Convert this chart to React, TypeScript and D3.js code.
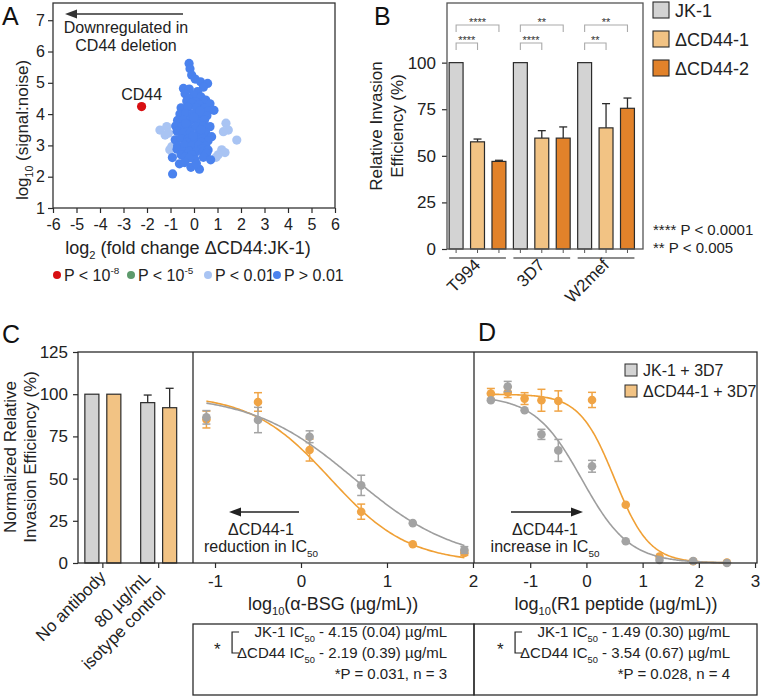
import React, { useEffect, useRef } from "react";
import * as d3 from "d3";

const FONT = "'Liberation Sans', Arial, Helvetica, sans-serif";

// ---- Panel A: proteomics scatter (log2 fold change vs log10 signal:noise)
const volcanoRed: [number, number][] = [[-2.23, 4.24]];
const volcanoLight: [number, number][] = [
  [-1.45, 3.49], [-1.16, 3.6], [-1.09, 3.39], [-1.23, 3.33], [-0.95, 2.96], [-1.03, 2.86],
  [1.36, 3.71], [1.46, 3.49], [1.25, 3.44], [1.82, 3.17], [1.18, 2.86], [1.32, 2.77],
  [1.03, 2.7], [0.94, 2.62],
];
const volcanoBlue: [number, number][] = [
  [-0.21, 5.62], [-0.17, 5.45], [-0.1, 5.25], [0.05, 5.12], [0.28, 5.03], [0.58, 4.98],
  [0.4, 4.86], [-0.45, 4.82], [-0.2, 4.8], [0.15, 4.72], [-0.38, 4.65], [0, 4.6],
  [0.3, 4.55], [-0.25, 4.5], [0.5, 4.45],
  [-0.31, 4.42], [0.05, 4.4], [0.4, 4.38], [-0.1, 4.35], [0.22, 4.3], [0.68, 4.33],
  [-0.55, 4.2], [-0.25, 4.22], [0.1, 4.2], [0.45, 4.18], [0.85, 4.12], [0.6, 4.1],
  [-0.6, 4.0], [-0.35, 4.02], [-0.05, 4.0], [0.3, 3.98], [0.55, 3.95], [0.25, 4.1],
  [-0.7, 3.8], [-0.45, 3.82], [-0.15, 3.8], [0.15, 3.78], [0.45, 3.82], [0.0, 3.9],
  [-0.78, 3.62], [-0.5, 3.6], [-0.2, 3.58], [0.1, 3.6], [0.4, 3.62], [0.68, 3.6], [-0.35, 3.7],
  [-0.72, 3.45], [-0.45, 3.4], [-0.15, 3.42], [0.2, 3.38], [0.5, 3.4], [0.3, 3.5],
  [-0.8, 3.18], [-0.55, 3.22], [-0.25, 3.2], [0.05, 3.2], [0.35, 3.22], [0.75, 3.28],
  [0.6, 3.15], [-0.05, 3.3], [-0.3, 3.1], [0.3, 3.1],
  [-0.7, 2.98], [-0.4, 3.0], [-0.1, 2.98], [0.2, 3.0], [0.5, 2.98], [0.35, 2.9],
  [-0.72, 2.88], [-0.45, 2.8], [-0.2, 2.82], [0.1, 2.8], [0.4, 2.8], [0.6, 2.85],
  [0.54, 2.75], [-0.1, 2.7], [-0.55, 2.7],
  [-0.92, 2.61], [-0.38, 2.64], [0.04, 2.55], [0.4, 2.62], [0.71, 2.54], [-0.2, 2.6],
  [-0.62, 2.41], [-0.13, 2.3], [0.23, 2.24], [-0.4, 2.45], [0.1, 2.42], [-0.91, 2.09],
];
const volcanoXTicks = [-6, -5, -4, -3, -2, -1, 0, 1, 2, 3, 4, 5, 6];
const volcanoYTicks = [1, 2, 3, 4, 5, 6, 7];

// ---- Panel B: invasion efficiency per strain
const strains = ["T994", "3D7", "W2mef"];
const lines = ["JK-1", "ΔCD44-1", "ΔCD44-2"];
const invMean = [[100, 57.5, 47], [100, 59.5, 59.5], [100, 65, 75.5]];
const invErr = [[0, 1.5, 0.6], [0, 4, 6], [0, 13, 5.5]];
const sigTop = ["****", "**", "**"]; // JK-1 vs ΔCD44-2
const sigLow = ["****", "****", "**"]; // JK-1 vs ΔCD44-1
const invTicks = [0, 25, 50, 75, 100];

// ---- Panel C: controls + anti-BSG dose response
const ctrlCats = ["No antibody", "80 µg/mL isotype control"];
const ctrlLines = ["JK-1", "ΔCD44"];
const ctrlMean = [[100, 100], [95, 92]];
const ctrlErr = [[0, 0], [4.5, 11.5]];
const bsgX = [-1.1, -0.5, 0.1, 0.7, 1.3, 1.9];
const bsgJK = [86.3, 84.7, 74.8, 46, 23.6, 7.7];
const bsgJKErr = [4, 7.5, 3.5, 6, 1, 2];
const bsgDel = [85, 95.4, 66.9, 30.4, 11.1, 6];
const bsgDelErr = [5, 5.5, 6.5, 4.5, 1, 1.5];
const bsgFitJK = { top: 100, bottom: 0, logIC50: 0.618, hill: 0.73 };
const bsgFitDel = { top: 100, bottom: 0, logIC50: 0.34, hill: 0.95 };

// ---- Panel D: R1 peptide dose response
const r1X = [-1.7, -1.4, -1.1, -0.8, -0.5, 0.1, 0.7, 1.3, 1.9, 2.5];
const r1JK = [96.4, 104.6, 90.5, 76.2, 66.7, 57.3, 12.9, 1.8, 1.2, 0];
const r1JKErr = [1, 3, 1, 3, 6.5, 3.5, 1, 1, 1, 0.5];
const r1Del = [100.4, 101, 97.4, 96.4, 96, 96.6, 34.5, 3.8, 1, 0.3];
const r1DelErr = [3, 3, 3.5, 6.5, 6, 4.5, 1, 1, 0.5, 0.3];
const r1FitJK = { top: 99, bottom: 0, logIC50: -0.08, hill: 1.03 };
const r1FitDel = { top: 100, bottom: 0, logIC50: 0.5, hill: 1.4 };
const normTicks = [0, 25, 50, 75, 100, 125];

const GREY = "#d3d3d3";
const LIGHT_OR = "#f2c384";
const DARK_OR = "#e2822a";
const PT_GREY = "#a3a3a3";
const PT_OR = "#f0a445";
const INK = "#2b2b2b";

type Part = { t: string; sub?: boolean; sup?: boolean };
type Sel = d3.Selection<any, any, any, any>;

function rich(parent: Sel, parts: Part[], size: number) {
  const t = parent.append("text").attr("font-family", FONT).attr("font-size", size).attr("fill", "#222");
  let shift = 0;
  parts.forEach((p) => {
    const target = p.sub ? size * 0.3 : p.sup ? -size * 0.42 : 0;
    const ts = t.append("tspan").attr("dy", target - shift).text(p.t);
    if (p.sub || p.sup) ts.attr("font-size", size * 0.62);
    shift = target;
  });
  return t;
}

function styleAxis(g: Sel, size: number) {
  g.select(".domain").remove();
  g.selectAll("line").attr("stroke", INK).attr("stroke-width", 1.2);
  g.selectAll("text").attr("font-family", FONT).attr("font-size", size).attr("fill", "#222");
}

const logistic = (p: { top: number; bottom: number; logIC50: number; hill: number }) => (x: number) =>
  p.bottom + (p.top - p.bottom) / (1 + Math.pow(10, p.hill * (x - p.logIC50)));

export default function App() {
  const svgRef = useRef<SVGSVGElement>(null);

  useEffect(() => {
    const el = svgRef.current;
    if (!el) return;
    const svg = d3.select(el);
    svg.selectAll("*").remove();

    // panel letters
    [["A", 2, 25], ["B", 374, 25], ["C", 2, 343], ["D", 478, 341]].forEach(([l, x, y]) =>
      svg.append("text").attr("x", x).attr("y", y).attr("font-family", FONT).attr("font-size", 25).attr("fill", "#111").text(l as string)
    );

    // ================= Panel A =================
    const ax = d3.scaleLinear().domain([-6, 6]).range([53, 335]);
    const ay = d3.scaleLinear().domain([1, 7.55]).range([208, 3]);
    const gA = svg.append("g");

    gA.append("g").attr("transform", "translate(0,208)")
      .call(d3.axisBottom(ax).tickValues(volcanoXTicks).tickSize(5).tickSizeOuter(0).tickPadding(6).tickFormat((d) => String(d)))
      .call((g) => styleAxis(g, 16));
    gA.append("g").attr("transform", "translate(53,0)")
      .call(d3.axisLeft(ay).tickValues(volcanoYTicks).tickSize(5).tickSizeOuter(0).tickPadding(3).tickFormat((d) => String(d)))
      .call((g) => styleAxis(g, 16));
    gA.append("rect").attr("x", 53).attr("y", 3).attr("width", 282).attr("height", 205)
      .attr("fill", "none").attr("stroke", "#333").attr("stroke-width", 1.3);

    const dots = (data: [number, number][], color: string) =>
      gA.append("g").selectAll("circle").data(data).join("circle")
        .attr("cx", (d) => ax(d[0])).attr("cy", (d) => ay(d[1])).attr("r", 4.6).attr("fill", color);
    dots(volcanoLight, "#a9c4f3");
    dots(volcanoBlue, "#4a82ee");
    dots(volcanoRed, "#d80f12");

    gA.append("text").attr("x", ax(volcanoRed[0][0])).attr("y", ay(volcanoRed[0][1]) - 7)
      .attr("text-anchor", "middle").attr("font-family", FONT).attr("font-size", 16).attr("fill", "#222").text("CD44");

    gA.append("line").attr("x1", 183).attr("x2", 72).attr("y1", 14).attr("y2", 14).attr("stroke", "#333").attr("stroke-width", 1.3);
    gA.append("path").attr("d", "M65,14 L77,9.5 L77,18.5 Z").attr("fill", "#333");
    gA.append("text").attr("x", 126).attr("y", 33).attr("text-anchor", "middle").attr("font-family", FONT)
      .attr("font-size", 16).attr("fill", "#222").text("Downregulated in");
    gA.append("text").attr("x", 126).attr("y", 51).attr("text-anchor", "middle").attr("font-family", FONT)
      .attr("font-size", 16).attr("fill", "#222").text("CD44 deletion");

    rich(gA.append("g").attr("transform", "translate(28,130) rotate(-90)"), [{ t: "log" }, { t: "10", sub: true }, { t: " (signal:noise)" }], 17)
      .attr("text-anchor", "middle");
    rich(gA.append("g").attr("transform", "translate(188,254)"), [{ t: "log" }, { t: "2", sub: true }, { t: " (fold change ΔCD44:JK-1)" }], 18)
      .attr("text-anchor", "middle");

    const aLegend: { c: string; parts: Part[]; x: number }[] = [
      { c: "#d80f12", parts: [{ t: "P < 10" }, { t: "-8", sup: true }], x: 57 },
      { c: "#5d9a6c", parts: [{ t: "P < 10" }, { t: "-5", sup: true }], x: 131 },
      { c: "#a9c4f3", parts: [{ t: "P < 0.01" }], x: 208 },
      { c: "#4a82ee", parts: [{ t: "P > 0.01" }], x: 277 },
    ];
    aLegend.forEach((it) => {
      gA.append("circle").attr("cx", it.x).attr("cy", 275).attr("r", 4).attr("fill", it.c);
      rich(gA.append("g").attr("transform", `translate(${it.x + 7},281)`), it.parts, 16);
    });

    // ================= Panel B =================
    const gB = svg.append("g");
    const by = d3.scaleLinear().domain([0, 132]).range([249, 3]);
    const keys = strains.flatMap((s) => lines.map((l) => `${s}|${l}`));
    const bx = d3.scaleBand<string>().domain(keys).range([447, 643]).paddingInner(0.35).paddingOuter(0.25).align(0.2);
    const bw = bx.bandwidth();
    const fills = [GREY, LIGHT_OR, DARK_OR];

    gB.append("g").attr("transform", "translate(447,0)")
      .call(d3.axisLeft(by).tickValues(invTicks).tickSize(5).tickSizeOuter(0).tickPadding(6))
      .call((g) => styleAxis(g, 17));

    // strain labels under the bar groups, slanted
    const strainLabels = svg.append("g").attr("class", "strain-labels");

    strains.forEach((s, si) => {
      lines.forEach((l, li) => {
        const x0 = bx(`${s}|${l}`)!;
        const v = invMean[si][li];
        gB.append("rect").attr("x", x0).attr("y", by(v)).attr("width", bw).attr("height", by(0) - by(v))
          .attr("fill", fills[li]).attr("stroke", INK).attr("stroke-width", 1.2);
        const e = invErr[si][li];
        if (e > 0) {
          const cx = x0 + bw / 2;
          gB.append("line").attr("x1", cx).attr("x2", cx).attr("y1", by(v)).attr("y2", by(v + e)).attr("stroke", INK).attr("stroke-width", 1.3);
          gB.append("line").attr("x1", cx - 4).attr("x2", cx + 4).attr("y1", by(v + e)).attr("y2", by(v + e)).attr("stroke", INK).attr("stroke-width", 1.3);
        }
        gB.append("line").attr("x1", x0 + bw / 2).attr("x2", x0 + bw / 2).attr("y1", 249).attr("y2", 253).attr("stroke", "#555");
      });
      const first = bx(`${s}|${lines[0]}`)!;
      const last = bx(`${s}|${lines[2]}`)! + bw;
      gB.append("line").attr("x1", first).attr("x2", last).attr("y1", 258).attr("y2", 258).attr("stroke", "#666").attr("stroke-width", 1.5);
      const mid = bx(`${s}|${lines[1]}`)! + bw / 2;
      const lg = strainLabels.append("g").attr("transform", `translate(${mid + 4},266) rotate(-45)`);
      lg.append("text").attr("x", 0).attr("y", 0).attr("text-anchor", "end")
        .attr("font-family", FONT).attr("font-size", 17).attr("fill", "#222").text(s);

      // significance brackets
      const c0 = first + bw / 2;
      [[2, 25, sigTop[si]], [1, 43, sigLow[si]]].forEach(([to, yy, lab]) => {
        const c1 = bx(`${s}|${lines[to as number]}`)! + bw / 2;
        const y = yy as number;
        gB.append("path").attr("d", `M${c0},${y + 7}V${y}H${c1}V${y + 7}`).attr("fill", "none").attr("stroke", "#aaa").attr("stroke-width", 1.1);
        gB.append("text").attr("x", (c0 + c1) / 2).attr("y", y + 1).attr("text-anchor", "middle")
          .attr("font-family", FONT).attr("font-size", 11).attr("fill", "#333").text(lab as string);
      });
    });

    gB.append("rect").attr("x", 447).attr("y", 3).attr("width", 196).attr("height", 246)
      .attr("fill", "none").attr("stroke", "#555").attr("stroke-width", 1.3);

    lines.forEach((l, i) => {
      const y = 2 + i * 29;
      gB.append("rect").attr("x", 653).attr("y", y).attr("width", 16).attr("height", 16)
        .attr("fill", fills[i]).attr("stroke", INK).attr("stroke-width", 1.1);
      gB.append("text").attr("x", 675).attr("y", y + 15).attr("font-family", FONT).attr("font-size", 18).attr("fill", "#222").text(l);
    });
    gB.append("text").attr("x", 653).attr("y", 235).attr("font-family", FONT).attr("font-size", 15).attr("fill", "#222").text("**** P < 0.0001");
    gB.append("text").attr("x", 653).attr("y", 253).attr("font-family", FONT).attr("font-size", 15).attr("fill", "#222").text("** P < 0.005");

    ["Relative Invasion", "Efficiency (%)"].forEach((t, i) =>
      gB.append("text").attr("transform", `translate(${382 + i * 21},126) rotate(-90)`).attr("text-anchor", "middle")
        .attr("font-family", FONT).attr("font-size", 17).attr("fill", "#222").text(t)
    );

    // ================= Panels C & D =================
    const gC = svg.append("g");
    const cy = d3.scaleLinear().domain([0, 125]).range([563, 352]);
    const cCat = d3.scalePoint<string>().domain(ctrlCats).range([78, 193]).padding(0.53).align(0.42);
    const cSub = d3.scaleBand<string>().domain(ctrlLines).range([-18, 18]).paddingInner(0.36);
    const cx = d3.scaleLinear().domain([-1.256, 2.012]).range([193, 474]);
    const dx = d3.scaleLinear().domain([-2, 3.035]).range([474, 757]);

    gC.append("g").attr("transform", "translate(78,0)")
      .call(d3.axisLeft(cy).tickValues(normTicks).tickSize(5).tickSizeOuter(0).tickPadding(5))
      .call((g) => styleAxis(g, 17));
    gC.append("g").attr("transform", "translate(0,563)")
      .call(d3.axisBottom(cx).tickValues([-1, 0, 1, 2]).tickSize(5).tickSizeOuter(0).tickPadding(7).tickFormat((d) => String(d)))
      .call((g) => styleAxis(g, 17));
    gC.append("g").attr("transform", "translate(0,563)")
      .call(d3.axisBottom(dx).tickValues([-1, 0, 1, 2, 3]).tickSize(5).tickSizeOuter(0).tickPadding(7).tickFormat((d) => String(d)))
      .call((g) => styleAxis(g, 17));

    // control bars
    ctrlCats.forEach((cat, ci) => {
      const c = cCat(cat)!;
      gC.append("line").attr("x1", c).attr("x2", c).attr("y1", 563).attr("y2", 568).attr("stroke", INK).attr("stroke-width", 1.2);
      ctrlLines.forEach((l, li) => {
        const x0 = c + cSub(l)!;
        const v = ctrlMean[ci][li];
        gC.append("rect").attr("x", x0).attr("y", cy(v)).attr("width", cSub.bandwidth()).attr("height", cy(0) - cy(v))
          .attr("fill", li === 0 ? GREY : LIGHT_OR).attr("stroke", INK).attr("stroke-width", 1.2);
        const e = ctrlErr[ci][li];
        if (e > 0) {
          const mx = x0 + cSub.bandwidth() / 2;
          gC.append("line").attr("x1", mx).attr("x2", mx).attr("y1", cy(v)).attr("y2", cy(v + e)).attr("stroke", INK).attr("stroke-width", 1.3);
          gC.append("line").attr("x1", mx - 4).attr("x2", mx + 4).attr("y1", cy(v + e)).attr("y2", cy(v + e)).attr("stroke", INK).attr("stroke-width", 1.3);
        }
      });
      const rows = cat === "No antibody" ? ["No antibody"] : ["80 µg/mL", "isotype control"];
      const lab = gC.append("g").attr("transform", `translate(${c + 4},578) rotate(-45)`);
      rows.forEach((r, ri) => {
        lab.append("text").attr("x", rows.length > 1 ? -8 : 0).attr("y", rows.length > 1 ? (ri - 0.5) * 21 + 2.8 : 0)
          .attr("text-anchor", "end").attr("font-family", FONT).attr("font-size", 17).attr("fill", "#222").text(r);
      });
    });

    // dose-response series
    const series = (x: d3.ScaleLinear<number, number>, xs: number[], ys: number[], es: number[], color: string, fit: any, curveColor: string) => {
      const f = logistic(fit);
      const xsFine = d3.range(xs[0], xs[xs.length - 1] + 0.001, 0.02);
      gC.append("path").datum(xsFine)
        .attr("d", d3.line<number>().x((d) => x(d)).y((d) => cy(f(d))))
        .attr("fill", "none").attr("stroke", curveColor).attr("stroke-width", 1.6);
      const g = gC.append("g");
      xs.forEach((xv, i) => {
        const px = x(xv);
        const e = es[i];
        if (e > 1.2) {
          g.append("line").attr("x1", px).attr("x2", px).attr("y1", cy(ys[i] - e)).attr("y2", cy(ys[i] + e)).attr("stroke", color).attr("stroke-width", 1.5);
          [ys[i] - e, ys[i] + e].forEach((yy) =>
            g.append("line").attr("x1", px - 4).attr("x2", px + 4).attr("y1", cy(yy)).attr("y2", cy(yy)).attr("stroke", color).attr("stroke-width", 1.5)
          );
        }
        g.append("circle").attr("cx", px).attr("cy", cy(ys[i])).attr("r", 4.3).attr("fill", color);
      });
    };
    series(cx, bsgX, bsgDel, bsgDelErr, PT_OR, bsgFitDel, "#f0a035");
    series(cx, bsgX, bsgJK, bsgJKErr, PT_GREY, bsgFitJK, "#9e9e9e");
    series(dx, r1X, r1Del, r1DelErr, PT_OR, r1FitDel, "#f0a035");
    series(dx, r1X, r1JK, r1JKErr, PT_GREY, r1FitJK, "#9e9e9e");

    // frame and separators
    gC.append("rect").attr("x", 78).attr("y", 352).attr("width", 679).attr("height", 211)
      .attr("fill", "none").attr("stroke", INK).attr("stroke-width", 1.3);
    [193, 474].forEach((x) =>
      gC.append("line").attr("x1", x).attr("x2", x).attr("y1", 352).attr("y2", 563).attr("stroke", INK).attr("stroke-width", 1.3)
    );

    // D legend
    [["JK-1 + 3D7", GREY], ["ΔCD44-1 + 3D7", LIGHT_OR]].forEach(([t, c], i) => {
      const y = 364 + i * 21;
      gC.append("rect").attr("x", 625).attr("y", y).attr("width", 12).attr("height", 12)
        .attr("fill", c).attr("stroke", INK).attr("stroke-width", 1);
      gC.append("text").attr("x", 643).attr("y", y + 11.5).attr("font-family", FONT).attr("font-size", 16).attr("fill", "#222").text(t);
    });

    // arrows with IC50 shift notes
    const arrow = (x1: number, x2: number, y: number) => {
      const dir = Math.sign(x2 - x1);
      gC.append("line").attr("x1", x1).attr("x2", x2 - dir * 8).attr("y1", y).attr("y2", y).attr("stroke", "#222").attr("stroke-width", 1.3);
      gC.append("path").attr("d", `M${x2},${y} L${x2 - dir * 12},${y - 4.5} L${x2 - dir * 12},${y + 4.5} Z`).attr("fill", "#222");
    };
    arrow(299, 229, 512);
    arrow(511, 583, 512);
    [[261, "reduction in IC"], [545, "increase in IC"]].forEach(([x, t]) => {
      gC.append("text").attr("x", x).attr("y", 535).attr("text-anchor", "middle").attr("font-family", FONT)
        .attr("font-size", 16).attr("fill", "#222").text("ΔCD44-1");
      rich(gC.append("g").attr("transform", `translate(${x},552)`), [{ t: t as string }, { t: "50", sub: true }], 16).attr("text-anchor", "middle");
    });

    // axis titles
    rich(gC.append("g").attr("transform", "translate(333,610)"), [{ t: "log" }, { t: "10", sub: true }, { t: "(α-BSG (µg/mL))" }], 18).attr("text-anchor", "middle");
    rich(gC.append("g").attr("transform", "translate(616,610)"), [{ t: "log" }, { t: "10", sub: true }, { t: "(R1 peptide (µg/mL))" }], 18).attr("text-anchor", "middle");
    ["Normalized Relative", "Invasion Efficiency (%)"].forEach((t, i) =>
      gC.append("text").attr("transform", `translate(${16 + i * 20},457) rotate(-90)`).attr("text-anchor", "middle")
        .attr("font-family", FONT).attr("font-size", 17).attr("fill", "#222").text(t)
    );

    // IC50 summary boxes
    const boxes = [
      { x0: 193, x1: 474, jk: "4.15 (0.04)", del: "2.19 (0.39)", p: "*P = 0.031, n = 3" },
      { x0: 474, x1: 757, jk: "1.49 (0.30)", del: "3.54 (0.67)", p: "*P = 0.028, n = 4" },
    ];
    boxes.forEach((b) => {
      gC.append("rect").attr("x", b.x0).attr("y", 624).attr("width", b.x1 - b.x0).attr("height", 71)
        .attr("fill", "none").attr("stroke", INK).attr("stroke-width", 1.3);
      const rx = b.x1 - 27;
      rich(gC.append("g").attr("transform", `translate(${rx},637)`), [{ t: "JK-1 IC" }, { t: "50", sub: true }, { t: ` - ${b.jk} µg/mL` }], 15).attr("text-anchor", "end");
      const delText = rich(gC.append("g").attr("transform", `translate(${rx},658)`), [{ t: "ΔCD44 IC" }, { t: "50", sub: true }, { t: ` - ${b.del} µg/mL` }], 15).attr("text-anchor", "end");
      gC.append("text").attr("x", rx).attr("y", 679).attr("text-anchor", "end").attr("font-family", FONT)
        .attr("font-size", 15).attr("fill", "#222").text(b.p);
      const w = (delText.node() as SVGTextElement).getComputedTextLength();
      const bxl = rx - w - 5;
      gC.append("path").attr("d", `M${bxl + 7},632 H${bxl} V653 H${bxl + 7}`).attr("fill", "none").attr("stroke", "#222").attr("stroke-width", 1.2);
      gC.append("text").attr("x", bxl - 18).attr("y", 655).attr("font-family", FONT).attr("font-size", 17).attr("fill", "#222").text("*");
    });

    return () => {
      d3.select(el).selectAll("*").remove();
    };
  }, []);

  return (
    <svg
      ref={svgRef}
      width={762}
      height={698}
      style={{ position: "absolute", left: 0, top: 0, background: "#fff" }}
    />
  );
}
